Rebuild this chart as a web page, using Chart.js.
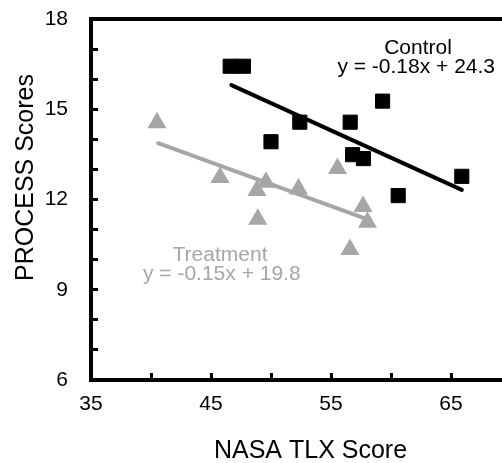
<!DOCTYPE html>
<html>
<head>
<meta charset="utf-8">
<script src="https://cdn.jsdelivr.net/npm/chart.js@4/dist/chart.umd.min.js"></script>
<style>
  html, body { margin: 0; padding: 0; background: #fff; overflow: hidden; }
  #wrap { width: 502px; height: 463px; position: relative; }
  canvas { display: block; }
</style>
</head>
<body>
<div id="wrap"><canvas id="c" width="502" height="463"></canvas></div>
<script>
// ---- data ----
const controlX   = [46.6, 47.7, 50.0, 52.4, 56.6, 56.8, 57.7, 59.3, 60.6, 65.9];
const controlY   = [16.43, 16.43, 13.92, 14.57, 14.57, 13.49, 13.36, 15.27, 12.13, 12.77];
const treatmentX = [40.5, 45.75, 48.83, 48.9, 49.58, 52.29, 55.54, 56.58, 57.67, 58.04];
const treatmentY = [14.55, 12.73, 12.30, 11.34, 12.57, 12.35, 13.03, 10.34, 11.77, 11.24];
const controlTrendX   = [46.7, 65.9];
const controlTrendY   = [15.8, 12.32];
const treatmentTrendX = [40.6, 57.7];
const treatmentTrendY = [13.87, 11.39];
const xTickLabels = [35, 45, 55, 65];
const yTickLabels = [6, 9, 12, 15, 18];
const seriesNames = ['Control', 'Treatment'];
const equations   = ['y = -0.18x + 24.3', 'y = -0.15x + 19.8'];
const xTitle = 'NASA TLX Score';
const yTitle = 'PROCESS Scores';

const GRAY = '#a6a6a6';
const FONT = '"Liberation Sans", Arial, sans-serif';

function pts(xs, ys) { return xs.map((x, i) => ({ x: x, y: ys[i] })); }
function noPad(s) { s.paddingLeft = 0; s.paddingRight = 0; s.paddingTop = 0; s.paddingBottom = 0; }

// text placement (data coordinates) for the in-plot labels
const labelPlacement = [
  { text: seriesNames[0], x: 62.25, y: 16.82, color: '#000' },
  { text: equations[0],   x: 62.1,  y: 16.21, color: '#000' },
  { text: seriesNames[1], x: 45.75, y: 9.96,  color: GRAY },
  { text: equations[1],   x: 45.9,  y: 9.33,  color: GRAY }
];

const textPlugin = {
  id: 'texts',
  afterDraw(chart) {
    const ctx = chart.ctx;
    const xs = chart.scales.x, ys = chart.scales.y;
    ctx.save();
    ctx.font = '21px ' + FONT;
    ctx.textAlign = 'center';
    ctx.textBaseline = 'alphabetic';
    labelPlacement.forEach(l => {
      ctx.fillStyle = l.color;
      ctx.fillText(l.text, xs.getPixelForValue(l.x), ys.getPixelForValue(l.y));
    });
    // axis titles
    ctx.fillStyle = '#000';
    ctx.font = '25px ' + FONT;
    ctx.fillText(xTitle, 310.5, 458);
    ctx.translate(33, 177.5);
    ctx.rotate(-Math.PI / 2);
    ctx.fillText(yTitle, 0, 0);
    ctx.restore();
  }
};

new Chart(document.getElementById('c'), {
  type: 'scatter',
  data: {
    datasets: [
      {
        label: seriesNames[0] + ' trend', type: 'line',
        data: pts(controlTrendX, controlTrendY),
        borderColor: '#000', borderWidth: 4, pointRadius: 0,
        borderCapStyle: 'round', fill: false, order: 0
      },
      {
        label: seriesNames[1] + ' trend', type: 'line',
        data: pts(treatmentTrendX, treatmentTrendY),
        borderColor: GRAY, borderWidth: 4, pointRadius: 0,
        borderCapStyle: 'round', fill: false, order: 0
      },
      {
        label: seriesNames[0], data: pts(controlX, controlY),
        pointStyle: 'rect', pointRadius: 10, pointBorderWidth: 1,
        backgroundColor: '#000', borderColor: '#000', order: 1
      },
      {
        label: seriesNames[1], data: pts(treatmentX, treatmentY),
        pointStyle: 'triangle', pointRadius: 11, pointBorderWidth: 0,
        backgroundColor: GRAY, borderColor: GRAY, order: 2
      }
    ]
  },
  options: {
    responsive: false,
    animation: false,
    devicePixelRatio: 1,
    layout: { autoPadding: false, padding: { left: 0, right: 0, top: 19, bottom: 0 } },
    plugins: { legend: { display: false }, tooltip: { enabled: false } },
    scales: {
      x: {
        type: 'linear', position: 'bottom', min: 35, max: 69.25,
        afterFit: s => { s.height = 83; noPad(s); },
        border: { display: true, color: '#000', width: 4 },
        grid: { display: true, drawOnChartArea: false, drawTicks: true, tickLength: -7, tickWidth: 3, tickColor: '#000' },
        ticks: {
          stepSize: 5, includeBounds: false, autoSkip: false, maxRotation: 0,
          padding: 19, color: '#000', font: { family: FONT, size: 21 },
          callback: v => xTickLabels.includes(v) ? String(v) : ''
        }
      },
      x2: {
        type: 'linear', position: 'top', min: 35, max: 69.25,
        afterFit: s => { s.height = 0; noPad(s); },
        border: { display: true, color: '#000', width: 4 },
        grid: { display: false, drawTicks: false },
        ticks: { display: false }
      },
      y: {
        type: 'linear', position: 'left', min: 6, max: 18,
        afterFit: s => { s.width = 91; noPad(s); },
        border: { display: true, color: '#000', width: 4 },
        grid: { display: true, drawOnChartArea: false, drawTicks: true, tickLength: -7, tickWidth: 3, tickColor: '#000' },
        ticks: {
          stepSize: 1, autoSkip: false, padding: 30, color: '#000',
          font: { family: FONT, size: 21 },
          callback: v => yTickLabels.includes(v) ? String(v) : ''
        }
      }
    }
  },
  plugins: [textPlugin]
});
</script>
</body>
</html>
